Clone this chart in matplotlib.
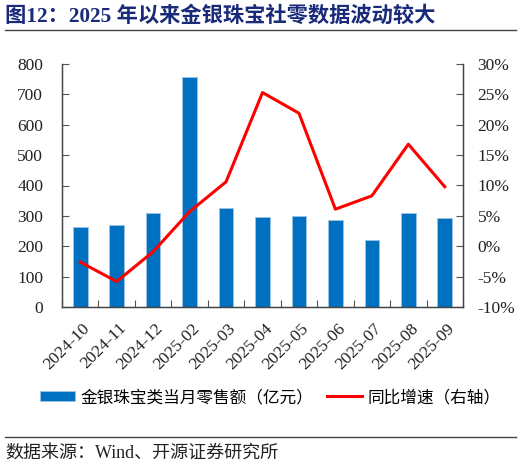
import matplotlib
matplotlib.use("Agg")
import matplotlib.pyplot as plt
from matplotlib.lines import Line2D
from matplotlib.patches import Patch
from matplotlib.ticker import FuncFormatter, MultipleLocator
from matplotlib.transforms import ScaledTranslation

categories = ["2024-10", "2024-11", "2024-12", "2025-02", "2025-03", "2025-04",
              "2025-05", "2025-06", "2025-07", "2025-08", "2025-09"]
sales = [262, 269, 310, 756, 326, 297, 300, 286, 220, 308, 293]
yoy = [-2.6, -5.8, -0.9, 5.7, 10.6, 25.3, 21.9, 6.1, 8.3, 16.8, 9.8]

title = "图12：2025 年以来金银珠宝社零数据波动较大"
bar_label = "金银珠宝类当月零售额（亿元）"
line_label = "同比增速（右轴）"
source = "数据来源：Wind、开源证券研究所"

mixed = ["Liberation Serif", "Noto Sans CJK SC", "DejaVu Sans"]
plt.rcParams["font.family"] = mixed

W, H = 522, 467
fig = plt.figure(figsize=(W / 100, H / 100), dpi=100)
ax = fig.add_axes([62 / W, 1 - 307 / H, (463 - 62) / W, (307 - 64) / H])
ax2 = ax.twinx()

x = list(range(len(categories)))
ax.bar(x, sales, width=0.4, color="#0070C0", edgecolor="#9DC3E6", linewidth=0.6, zorder=2)
ax.set_ylim(0, 800)
ax.set_xlim(-0.5, len(categories) - 0.5)
ax.yaxis.set_major_locator(MultipleLocator(100))

ax2.plot(x, yoy, color="#FF0000", linewidth=2.2, zorder=3)
ax2.set_ylim(-10, 30)
ax2.yaxis.set_major_locator(MultipleLocator(5))
ax2.yaxis.set_major_formatter(FuncFormatter(lambda v, p: f"{v:.0f}%"))

ax.set_xticks([i + 0.5 for i in range(-1, len(categories))], minor=False)
ax.set_xticklabels([])
ax.set_xticks(x, minor=True)
ax.set_xticklabels(categories, minor=True, rotation=45, ha="right", va="center",
                   rotation_mode="anchor", fontsize=12.5, color="#222222")
ax.tick_params(axis="x", which="major", direction="in", length=5, color="#555555")
ax.tick_params(axis="x", which="minor", length=0, pad=0)
offset = ScaledTranslation(7.5 / 100, -19 / 100, fig.dpi_scale_trans)
for lab in ax.get_xticklabels(minor=True):
    lab.set_transform(lab.get_transform() + offset)

ax.tick_params(axis="y", direction="in", length=5, color="#555555", labelsize=12.5,
               labelcolor="#222222", pad=13.5)
ax2.tick_params(axis="y", direction="in", length=5, color="#555555", labelsize=12.5,
                labelcolor="#222222", pad=10.5)
for a in (ax, ax2):
    a.spines["top"].set_visible(False)
    for s in ("left", "right", "bottom"):
        a.spines[s].set_color("#444444")
        a.spines[s].set_linewidth(0.9)
ax2.set_zorder(ax.get_zorder() + 1)

# title and rules
fig.text(5 / W, 1 - 16 / H, title, fontsize=15.3, fontweight="bold",
         color="#1A2A7A", va="center", ha="left")
fig.add_artist(Line2D([5 / W, 516 / W], [1 - 30 / H, 1 - 30 / H], color="#444444", linewidth=1.0))
fig.add_artist(Line2D([5 / W, 516 / W], [1 - 437 / H, 1 - 437 / H], color="#444444", linewidth=1.0))
fig.text(5 / W, 1 - 453 / H, source, fontsize=13, color="#222222",
         va="center", ha="left")

handles = [Patch(facecolor="#0070C0", edgecolor="#9DC3E6", linewidth=0.6),
           Line2D([0], [0], color="#FF0000", linewidth=2.2)]
fig.legend(handles, [bar_label, line_label], loc="center left",
           bbox_to_anchor=(40 / W, 1 - 398 / H), borderpad=0, borderaxespad=0,
           ncol=2, frameon=False, prop={"size": 12},
           handlelength=2.1, handleheight=0.6, columnspacing=0.8, handletextpad=0.35)

fig.savefig("out.png", dpi=100)
